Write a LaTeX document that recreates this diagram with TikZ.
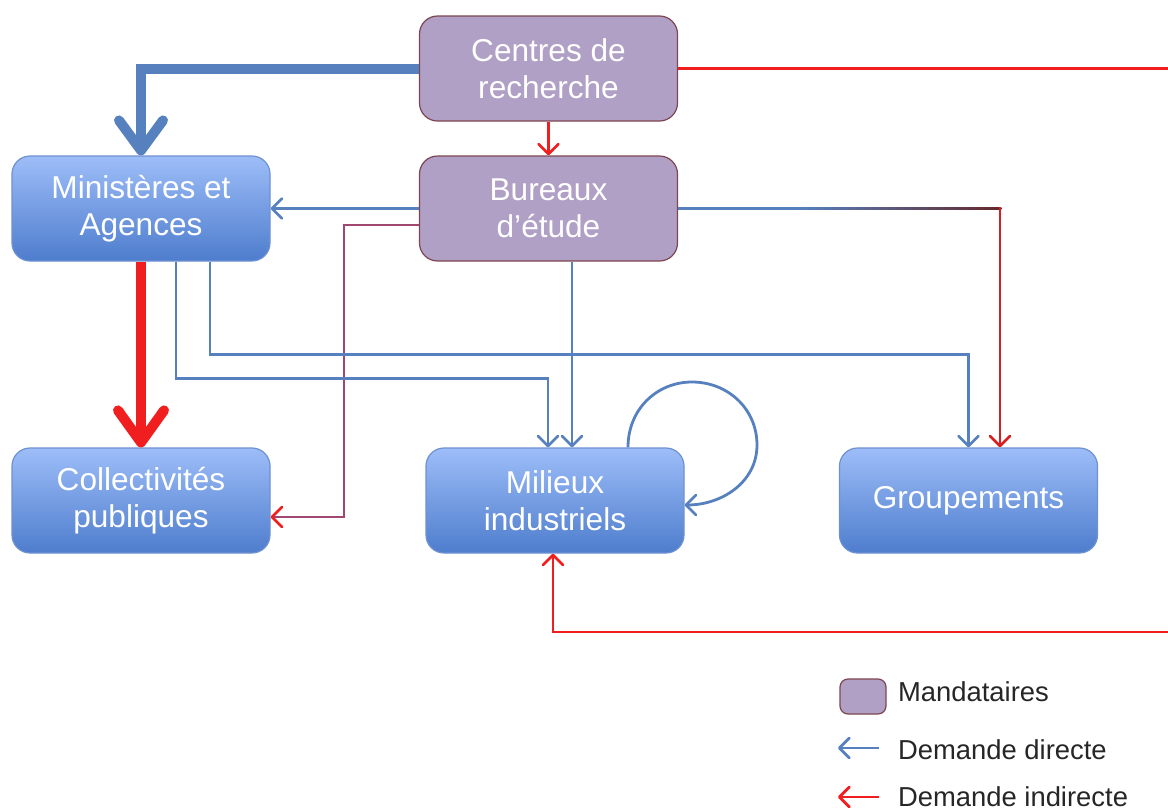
\documentclass[tikz,border=0pt]{standalone}
\usepackage{fontspec}
\setmainfont{Liberation Sans}
\usetikzlibrary{arrows.meta}

\definecolor{mandfill}{HTML}{B0A0C6}
\definecolor{manddraw}{HTML}{7D4650}
\definecolor{bluetop}{HTML}{9DBDF8}
\definecolor{bluebot}{HTML}{4E7DCD}
\definecolor{bluedraw}{HTML}{6E91D2}
\definecolor{dirline}{HTML}{5680BE}
\definecolor{indline}{HTML}{F01E1E}
\definecolor{mauve}{HTML}{A04870}
\definecolor{brn}{HTML}{64282A}

\tikzset{
  box/.style={rounded corners=9pt, minimum width=129pt, minimum height=52.5pt,
    align=center, text=white, font=\fontsize{15.8}{18.5}\selectfont, line width=.6pt},
  mand/.style={box, fill=mandfill, draw=manddraw},
  acteur/.style={box, top color=bluetop, bottom color=bluebot, draw=bluedraw},
  direct/.style={draw=dirline, line width=1.4pt,
    -{Straight Barb[length=5pt,width=10pt,round]}},
  indirect/.style={draw=indline, line width=1.4pt,
    -{Straight Barb[length=5pt,width=10pt,round]}},
  bigdirect/.style={draw=dirline, line width=5pt,
    -{Straight Barb[length=15pt,width=22pt,round]}},
  bigindirect/.style={draw=indline, line width=5pt,
    -{Straight Barb[length=16pt,width=23pt,round]}},
  legtext/.style={anchor=west, text=black!85, font=\fontsize{13.7}{16}\selectfont}
}

\begin{document}
\begin{tikzpicture}[x=0.5pt,y=-0.5pt]
  \useasboundingbox (0,0) rectangle (1168,809);

  % acteurs
  \node[mand]   (centres) at (548.5,68.5)  {Centres de\\recherche};
  \node[mand]   (bureaux) at (548.5,208.5) {Bureaux\\d’étude};
  \node[acteur] (minist)  at (141,208.5)   {Ministères et\\Agences};
  \node[acteur] (collect) at (141,500.5)   {Collectivités\\publiques};
  \node[acteur] (milieux) at (555,500.5)   {Milieux\\industriels};
  \node[acteur] (group)   at (968.5,500.5) {Groupements};

  % coins hors cadre
  \coordinate (ne) at (1190,68.5);
  \coordinate (se) at (1190,632);
  \coordinate (bg) at (1000,208.5);

  % demandes
  \draw[bigdirect] (centres.west) -| (minist.north);
  \draw[indirect] (centres.south) -- (bureaux.north);
  \draw[indirect] (centres.east) -- (ne) -- (se) -| ([xshift=-1pt]milieux.south);
  \draw[direct] (bureaux.west) -- (minist.east);
  \draw[draw=mauve, line width=1.4pt, -{Straight Barb[length=5pt,width=10pt,round,color=indline]}]
    ([yshift=-8.25pt]bureaux.west) -- ++(-75,0) |- ([yshift=-8.25pt]collect.east);
  \draw[direct] ([xshift=11.75pt]bureaux.south) -- ([xshift=11.75pt]bureaux.south |- milieux.north);
  \shade[left color=dirline, right color=brn]
    ([yshift=.7pt,xshift=60pt]bureaux.east) rectangle ([yshift=-.7pt,xshift=.7pt]bg);
  \draw[dirline, line width=1.4pt] (bureaux.east) -- ([xshift=60pt]bureaux.east);
  \draw[indirect, draw=indline!80!brn] ([yshift=.7pt]bg) -- ([xshift=15.75pt]group.north);
  \draw[bigindirect] (minist.south) -- (collect.north);
  \draw[direct] ([xshift=17.5pt]minist.south) -- ++(0,117) -| ([xshift=-3.5pt]milieux.north);
  \draw[direct] ([xshift=34.5pt]minist.south) -- ++(0,93) -| (group.north);
  \draw[direct] ([xshift=36.5pt]milieux.north)
    .. controls (628,409) and (657,382) .. (692,382)
    .. controls (728,382) and (757,409) .. (757,445)
    .. controls (757,482) and (722,505) .. (milieux.east |- 0,505);

  % legende
  \node[mand, minimum width=23pt, minimum height=17.5pt, rounded corners=4pt] (lmand) at (863,696.5) {};
  \node[legtext] (tmand) at (891,692) {Mandataires};
  \node[legtext] (tdir)  at (891,750) {Demande directe};
  \node[legtext] (tind)  at (891,797) {Demande indirecte};
  \coordinate (ldir) at (838,748);
  \coordinate (lind) at (838,797);
  \draw[direct]   ([xshift=-6pt]tdir.west |- ldir) -- (ldir);
  \draw[indirect] ([xshift=-6pt]tind.west |- lind) -- (lind);
\end{tikzpicture}
\end{document}
